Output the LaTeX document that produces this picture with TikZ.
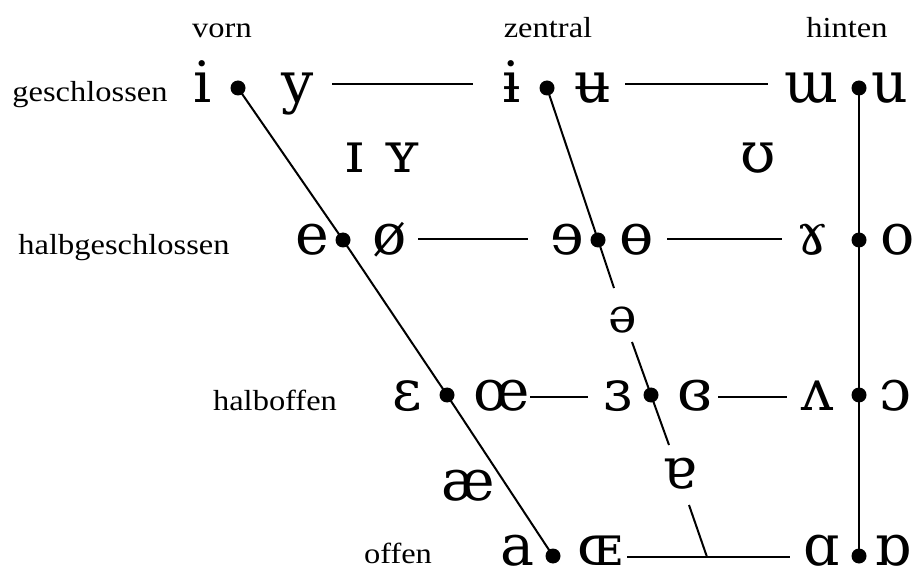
\documentclass[tikz,border=0pt]{standalone}
\usepackage{fontspec}
\setmainfont[FakeStretch=1.12]{Liberation Serif}
\newfontfamily\ipafont{DejaVu Serif}
\begin{document}
\begin{tikzpicture}[x=1pt,y=-1pt,
  lbl/.style={font=\fontsize{29}{29}\selectfont, anchor=base, inner sep=0pt},
  sym/.style={font=\ipafont\fontsize{57}{57}\selectfont, anchor=base, inner sep=0pt},
  smallsym/.style={font=\ipafont\fontsize{48}{48}\selectfont, anchor=base, inner sep=0pt},
  vdot/.style={circle, fill=black, minimum size=15pt, inner sep=0pt},
  ln/.style={line width=2pt}]
\useasboundingbox (0,0) rectangle (914,572);
% labels
\node[lbl] (vorn) at (222,38) {vorn};
\node[lbl] (zentral) at (548,38) {zentral};
\node[lbl] (hinten) at (847,38) {hinten};
\node[lbl] (geschl) at (90,102) {geschlossen};
\node[lbl] (halbg) at (124,255) {halbgeschlossen};
\node[lbl] (halbo) at (275,410) {halboffen};
\node[lbl] (offen) at (398,563) {offen};
% row 1
\node[sym] (s-i) at (203,103) {i};
\node[sym] (s-y) at (298,103) {y};
\node[sym] (s-ib) at (512,103) {ɨ};
\node[sym] (s-ub) at (593,103) {ʉ};
\node[sym] (s-m) at (812,103) {ɯ};
\node[sym] (s-u) at (890,103) {u};
% row 2
\node[sym] (s-e) at (312,255) {e};
\node[sym] (s-oe) at (390,255) {ø};
\node[sym] (s-er) at (567,255) {ɘ};
\node[sym] (s-ob) at (637,255) {ɵ};
\node[sym] (s-g) at (813,255) {ɤ};
\node[sym] (s-o) at (898,255) {o};
% row 3
\node[sym] (s-eps) at (407,410) {ɛ};
\node[sym] (s-oel) at (502,410) {œ};
\node[sym] (s-3) at (618,410) {ɜ};
\node[sym] (s-3c) at (695,410) {ɞ};
\node[sym] (s-v) at (818,410) {ʌ};
\node[sym] (s-oo) at (895,410) {ɔ};
% row 4
\node[sym] (s-a) at (517,565) {a};
\node[sym] (s-OE) at (600,565) {ɶ};
\node[sym] (s-al) at (822,565) {ɑ};
\node[sym] (s-ar) at (893,565) {ɒ};
% in between
\node[sym] (s-I) at (355,173) {ɪ};
\node[sym] (s-Y) at (402,173) {ʏ};
\node[sym] (s-U) at (758,173) {ʊ};
\node[smallsym] (s-schwa) at (623,333) {ə};
\node[sym] (s-ae) at (468,500) {æ};
\node[sym] (s-tA) at (679,488) {ɐ};
% dots
\node[vdot] (d1a) at (238,88) {};
\node[vdot] (d1b) at (547,88) {};
\node[vdot] (d1c) at (859,88) {};
\node[vdot] (d2a) at (343,240) {};
\node[vdot] (d2b) at (598,240) {};
\node[vdot] (d2c) at (859,240) {};
\node[vdot] (d3a) at (447,395) {};
\node[vdot] (d3b) at (651,395) {};
\node[vdot] (d3c) at (859,395) {};
\node[vdot] (d4a) at (553,556) {};
\node[vdot] (d4c) at (859,556) {};
% free ends
\coordinate (c1) at (614,288);
\coordinate (c2) at (632,342);
\coordinate (c3) at (669,445);
\coordinate (c4) at (689,505);
\coordinate (c5) at (707,557);
\coordinate (h1a) at (332,84); \coordinate (h1b) at (473,84);
\coordinate (h1c) at (625,84); \coordinate (h1d) at (768,84);
\coordinate (h2a) at (418,239); \coordinate (h2b) at (528,239);
\coordinate (h2c) at (667,239); \coordinate (h2d) at (782,239);
\coordinate (h3a) at (530,397); \coordinate (h3b) at (588,397);
\coordinate (h3c) at (718,397); \coordinate (h3d) at (787,397);
\coordinate (h4a) at (627,557); \coordinate (h4b) at (790,557);
% lines
\draw[ln] (d1a.center) -- (d2a.center) -- (d3a.center) -- (d4a.center);
\draw[ln] (d1b.center) -- (d2b.center) -- (c1);
\draw[ln] (c2) -- (d3b.center) -- (c3);
\draw[ln] (c4) -- (c5);
\draw[ln] (d1c.center) -- (d2c.center) -- (d3c.center) -- (d4c.center);
\draw[ln] (h1a) -- (h1b);
\draw[ln] (h1c) -- (h1d);
\draw[ln] (h2a) -- (h2b);
\draw[ln] (h2c) -- (h2d);
\draw[ln] (h3a) -- (h3b);
\draw[ln] (h3c) -- (h3d);
\draw[ln] (h4a) -- (h4b);
\end{tikzpicture}
\end{document}
